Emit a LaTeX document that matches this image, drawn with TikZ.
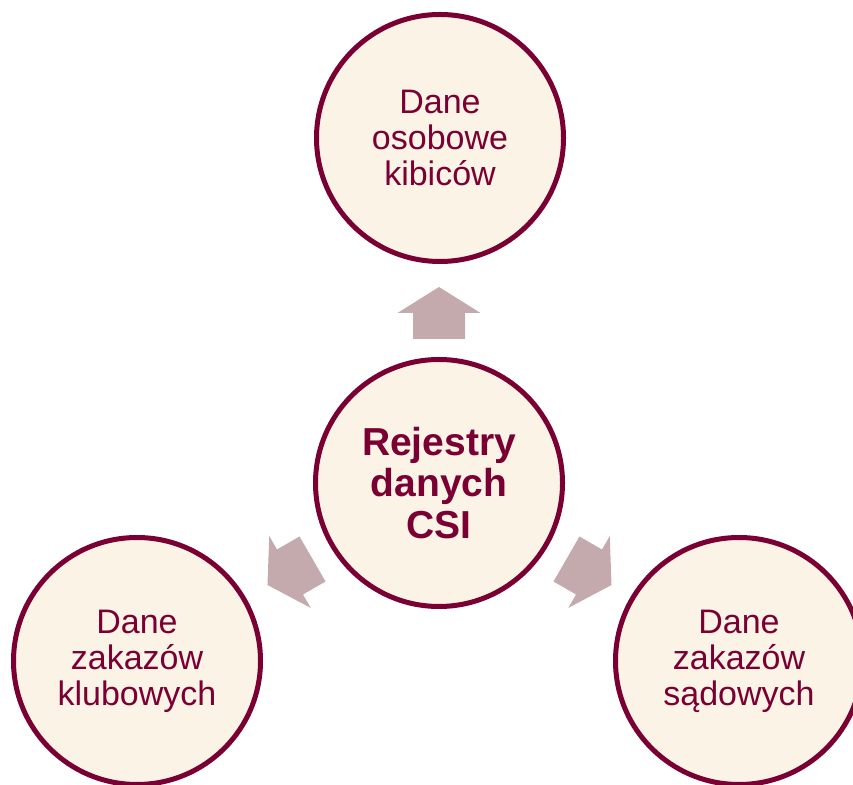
\documentclass[tikz,border=0pt]{standalone}
\usepackage{fontspec}
\setmainfont{Liberation Sans}
\definecolor{maroon}{HTML}{7A0033}
\definecolor{cream}{HTML}{FAF3E6}
\definecolor{arrowc}{HTML}{C4A9AD}
\tikzset{
  bubble/.style={circle, draw=maroon, fill=cream, line width=5pt, minimum size=247pt,
    inner sep=0pt, align=center, text=maroon, font=\fontsize{34}{36}\selectfont},
  hub/.style={bubble, font=\bfseries\fontsize{39}{41.5}\selectfont},
  blockarrow/.pic={\fill[arrowc] (-26,-26) -- (0,-26) -- (0,-41.5) -- (26,0) -- (0,41.5) -- (0,26) -- (-26,26) -- cycle;}
}
\begin{document}
\begin{tikzpicture}[x=1pt,y=1pt]
\useasboundingbox (0,0) rectangle (853,784);
\clip (0,0) rectangle (853,784);
\node[hub] (center) at (439,301) {Rejestry\\danych\\CSI};
\node[bubble] (top) at (440,646) {Dane\\osobowe\\kibiców};
\node[bubble] (left) at (137,123) {Dane\\zakazów\\klubowych};
\node[bubble] (right) at (739,123) {Dane\\zakazów\\sądowych};
\coordinate (aup) at (439,471);
\coordinate (aleft) at (290,212);
\coordinate (aright) at (589,212);
\pic[rotate=90] at (aup) {blockarrow};
\pic[rotate=210] at (aleft) {blockarrow};
\pic[rotate=330] at (aright) {blockarrow};
\end{tikzpicture}
\end{document}
